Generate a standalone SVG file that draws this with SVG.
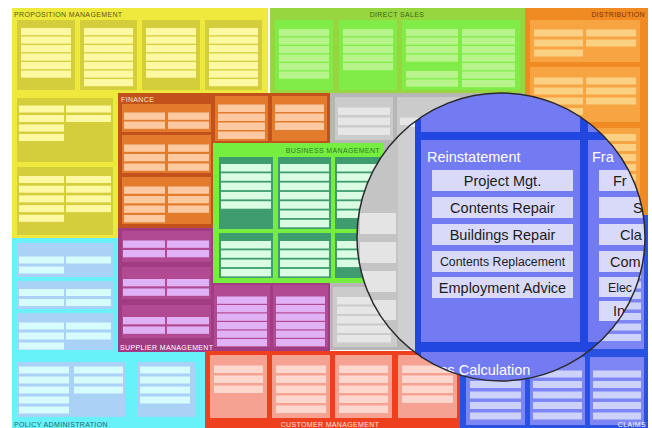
<svg xmlns="http://www.w3.org/2000/svg" width="652" height="428" viewBox="0 0 652 428">
<style>
text{font-family:"Liberation Sans",Arial,Helvetica,sans-serif}
.lbl{font-size:7px;letter-spacing:.35px}
.hd{font-size:14.5px;fill:#fff}
.it{font-size:14.5px;fill:#1c1c1c}
.its{font-size:12.3px;fill:#1c1c1c}
.mid{text-anchor:middle}
.end{text-anchor:end}
.yo{fill:#efe93e}.yg{fill:#d5ce3c}.yc{fill:#fdf8a2}
.dso{fill:#97d63f}.dsg{fill:#7fec48}.dsc{fill:#b7f58c}
.do{fill:#f08a22}.dg{fill:#f6a542}.dc{fill:#fcd083}
.fo{fill:#c2511b}.fg{fill:#e27b2c}.fc{fill:#fcc9a1}
.bo{fill:#76ee40}.bg{fill:#3e9c6e}.bc{fill:#d9fce2}
.go{fill:#b6b6b6}.gg{fill:#cbcbcb}.gc{fill:#e6e6e6}
.po{fill:#a23c82}.pg{fill:#b24a93}.pc{fill:#e0b1f5}
.co{fill:#66f2f8}.cg{fill:#a9d2f6}.cc{fill:#d6fcfc}
.ro{fill:#ee401e}.rg{fill:#f5a293}.rc{fill:#fdd6cd}
.lo{fill:#2a52e2}.lg{fill:#7d86f4}.lc{fill:#ccd2fa}
.zb{fill:#2247e0}.zp{fill:#737bf2}.zi{fill:#d9dafa}
</style>
<defs>
<clipPath id="lens"><circle cx="501" cy="237" r="144"/></clipPath>
</defs>
<rect width="652" height="428" fill="#fff"/>

<!-- Proposition management -->
<g id="proposition-management">
<rect class="yo" x="12" y="8" width="256" height="232"/>
<text class="lbl" x="14" y="16.8" fill="#5c5612">PROPOSITION MANAGEMENT</text>
<g class="yg">
<rect x="17" y="20" width="58" height="70"/><rect x="80" y="20" width="57" height="70"/>
<rect x="142" y="20" width="58" height="70"/><rect x="205" y="20" width="57" height="70"/>
<rect x="17" y="98" width="96" height="64"/><rect x="17" y="167" width="96" height="68"/>
</g>
<g class="yc">
<rect x="21" y="28" width="50" height="7.2"/><rect x="21" y="36.5" width="50" height="7.2"/><rect x="21" y="45" width="50" height="7.2"/><rect x="21" y="53.5" width="50" height="7.2"/><rect x="21" y="62" width="50" height="7.2"/><rect x="21" y="70.5" width="50" height="7.2"/>
<rect x="84" y="28" width="49" height="7.2"/><rect x="84" y="36.5" width="49" height="7.2"/><rect x="84" y="45" width="49" height="7.2"/><rect x="84" y="53.5" width="49" height="7.2"/><rect x="84" y="62" width="49" height="7.2"/><rect x="84" y="70.5" width="49" height="7.2"/><rect x="84" y="79" width="49" height="7.2"/>
<rect x="146" y="28" width="50" height="7.2"/><rect x="146" y="36.5" width="50" height="7.2"/><rect x="146" y="45" width="50" height="7.2"/><rect x="146" y="53.5" width="50" height="7.2"/><rect x="146" y="62" width="50" height="7.2"/><rect x="146" y="70.5" width="50" height="7.2"/>
<rect x="209" y="28" width="49" height="7.2"/><rect x="209" y="36.5" width="49" height="7.2"/><rect x="209" y="45" width="49" height="7.2"/><rect x="209" y="53.5" width="49" height="7.2"/><rect x="209" y="62" width="49" height="7.2"/><rect x="209" y="70.5" width="49" height="7.2"/><rect x="209" y="79" width="49" height="7.2"/>
<rect x="19" y="105.5" width="45" height="7"/><rect x="66" y="105.5" width="45" height="7"/><rect x="19" y="115" width="45" height="7"/><rect x="66" y="115" width="45" height="7"/><rect x="19" y="124.5" width="45" height="7"/><rect x="19" y="134" width="45" height="7"/>
<rect x="19" y="176" width="45" height="7"/><rect x="66" y="176" width="45" height="7"/><rect x="19" y="185.7" width="45" height="7"/><rect x="66" y="185.7" width="45" height="7"/><rect x="19" y="195.4" width="45" height="7"/><rect x="66" y="195.4" width="45" height="7"/><rect x="19" y="205.1" width="45" height="7"/><rect x="66" y="205.1" width="45" height="7"/><rect x="19" y="214.8" width="45" height="7"/>
</g>
</g>

<!-- Direct sales -->
<g id="direct-sales">
<rect class="dso" x="270" y="8" width="255" height="85"/>
<text class="lbl mid" x="397" y="16.8" fill="#3e6614">DIRECT SALES</text>
<g class="dsg">
<rect x="275" y="20" width="58" height="70"/><rect x="339" y="20" width="58" height="70"/><rect x="402" y="20" width="118" height="70"/>
</g>
<g class="dsc">
<rect x="279" y="29" width="50" height="7.2"/><rect x="279" y="37.5" width="50" height="7.2"/><rect x="279" y="46" width="50" height="7.2"/><rect x="279" y="54.5" width="50" height="7.2"/><rect x="279" y="63" width="50" height="7.2"/><rect x="279" y="71.5" width="50" height="7.2"/>
<rect x="343" y="29" width="50" height="7.2"/><rect x="343" y="37.5" width="50" height="7.2"/><rect x="343" y="46" width="50" height="7.2"/><rect x="343" y="54.5" width="50" height="7.2"/><rect x="343" y="63" width="50" height="7.2"/>
<rect x="406" y="29" width="52" height="7.2"/><rect x="406" y="37.5" width="52" height="7.2"/><rect x="406" y="46" width="52" height="7.2"/><rect x="406" y="54.5" width="52" height="7.2"/><rect x="406" y="71" width="52" height="7.2"/><rect x="406" y="79.5" width="52" height="7.2"/>
<rect x="462" y="29" width="53" height="7.2"/><rect x="462" y="37.5" width="53" height="7.2"/><rect x="462" y="46" width="53" height="7.2"/><rect x="462" y="54.5" width="53" height="7.2"/><rect x="462" y="63" width="53" height="7.2"/><rect x="462" y="71.5" width="53" height="7.2"/><rect x="462" y="80" width="53" height="7.2"/>
</g>
</g>

<!-- Distribution -->
<g id="distribution">
<rect class="do" x="525" y="8" width="123" height="207"/>
<text class="lbl end" x="645" y="17" fill="#7a3404">DISTRIBUTION</text>
<g class="dg">
<rect x="530" y="20" width="110" height="42"/><rect x="530" y="67" width="110" height="55"/><rect x="530" y="128" width="110" height="80"/>
</g>
<g class="dc">
<rect x="534" y="29.5" width="49" height="7"/><rect x="586" y="29.5" width="50" height="7"/><rect x="534" y="39.5" width="49" height="7"/><rect x="586" y="39.5" width="50" height="7"/><rect x="534" y="49.5" width="49" height="7"/>
<rect x="534" y="77.5" width="49" height="7"/><rect x="586" y="77.5" width="50" height="7"/><rect x="534" y="87.5" width="49" height="7"/><rect x="586" y="87.5" width="50" height="7"/><rect x="534" y="97.5" width="49" height="7"/><rect x="586" y="97.5" width="50" height="7"/><rect x="534" y="108" width="49" height="7"/>
<rect x="534" y="134" width="49" height="7"/><rect x="586" y="134" width="50" height="7"/><rect x="534" y="144" width="49" height="7"/><rect x="586" y="144" width="50" height="7"/><rect x="534" y="154" width="49" height="7"/><rect x="586" y="154" width="50" height="7"/><rect x="534" y="164" width="49" height="7"/><rect x="586" y="164" width="50" height="7"/><rect x="534" y="174" width="49" height="7"/><rect x="586" y="174" width="50" height="7"/>
</g>
</g>

<!-- Grey domain behind the lens -->
<g id="grey-domain">
<rect class="go" x="330" y="93" width="195" height="257"/>
<g class="gg">
<rect x="335" y="97" width="58" height="43"/><rect x="397" y="97" width="63" height="43"/><rect x="333" y="287" width="64" height="60"/>
</g>
<g class="gc">
<rect x="338" y="107.5" width="52" height="7.5"/><rect x="338" y="117.5" width="52" height="7.5"/><rect x="338" y="127.5" width="52" height="7.5"/>
<rect x="400" y="117.5" width="57" height="7.5"/>
<rect x="337" y="297" width="54" height="7.5"/><rect x="337" y="306.5" width="54" height="7.5"/><rect x="337" y="316" width="54" height="7.5"/><rect x="337" y="325.5" width="54" height="7.5"/><rect x="337" y="335" width="54" height="7.5"/>
</g>
</g>

<!-- Policy administration -->
<g id="policy-administration">
<rect class="co" x="12" y="238" width="193" height="190"/>
<g class="cg">
<rect x="17" y="243" width="96" height="34"/><rect x="17" y="281" width="96" height="28"/><rect x="17" y="313" width="96" height="37"/>
<rect x="17" y="362" width="108" height="55"/><rect x="137" y="362" width="58" height="55"/>
</g>
<g class="cc">
<rect x="19" y="256.5" width="45" height="7"/><rect x="66" y="256.5" width="45" height="7"/><rect x="19" y="266.5" width="45" height="7"/>
<rect x="19" y="289" width="45" height="7"/><rect x="66" y="289" width="45" height="7"/><rect x="19" y="299" width="45" height="7"/><rect x="66" y="299" width="45" height="7"/>
<rect x="19" y="322.5" width="45" height="7"/><rect x="66" y="322.5" width="45" height="7"/><rect x="19" y="332.5" width="45" height="7"/><rect x="66" y="332.5" width="45" height="7"/><rect x="19" y="342.5" width="45" height="7"/>
<rect x="19" y="366.5" width="50" height="7"/><rect x="19" y="376.5" width="50" height="7"/><rect x="19" y="386.5" width="50" height="7"/><rect x="19" y="396.5" width="50" height="7"/><rect x="19" y="406.5" width="50" height="7"/>
<rect x="74" y="366.5" width="49" height="7"/><rect x="74" y="376.5" width="49" height="7"/><rect x="74" y="386.5" width="49" height="7"/>
<rect x="140" y="366.5" width="50" height="7"/><rect x="140" y="376.5" width="50" height="7"/><rect x="140" y="386.5" width="50" height="7"/><rect x="140" y="396.5" width="50" height="7"/>
</g>
<text class="lbl" x="14" y="427" fill="#1d6b72">POLICY ADMINISTRATION</text>
</g>

<!-- Finance -->
<g id="finance">
<rect class="fo" x="118" y="93" width="212" height="135"/>
<text class="lbl" x="121" y="101.5" fill="#ffe8d8">FINANCE</text>
<g class="fg">
<rect x="122" y="104" width="89" height="28"/><rect x="122" y="135" width="89" height="38"/><rect x="122" y="177" width="89" height="47"/>
<rect x="215" y="96" width="53" height="45"/><rect x="272" y="96" width="55" height="45"/>
</g>
<g class="fc">
<rect x="124" y="112.5" width="41" height="7.3"/><rect x="168" y="112.5" width="41" height="7.3"/><rect x="124" y="121.5" width="41" height="7.3"/><rect x="168" y="121.5" width="41" height="7.3"/>
<rect x="124" y="144.5" width="41" height="7.3"/><rect x="168" y="144.5" width="41" height="7.3"/><rect x="124" y="154" width="41" height="7.3"/><rect x="168" y="154" width="41" height="7.3"/><rect x="124" y="163.5" width="41" height="7.3"/><rect x="168" y="163.5" width="41" height="7.3"/>
<rect x="124" y="186.5" width="41" height="7.3"/><rect x="168" y="186.5" width="41" height="7.3"/><rect x="124" y="196" width="41" height="7.3"/><rect x="168" y="196" width="41" height="7.3"/><rect x="124" y="205.5" width="41" height="7.3"/><rect x="168" y="205.5" width="41" height="7.3"/><rect x="124" y="215" width="41" height="7.3"/>
<rect x="218" y="104.5" width="47" height="7.5"/><rect x="218" y="113.5" width="47" height="7.5"/><rect x="218" y="122.5" width="47" height="7.5"/><rect x="218" y="131.5" width="47" height="7.5"/>
<rect x="275" y="104.5" width="49" height="7.5"/><rect x="275" y="113.5" width="49" height="7.5"/><rect x="275" y="122.5" width="49" height="7.5"/>
</g>
</g>

<!-- Supplier management -->
<g id="supplier-management">
<rect class="po" x="118" y="228" width="212" height="124"/>
<g class="pg">
<rect x="122" y="231" width="89" height="31"/><rect x="122" y="267" width="89" height="32"/><rect x="122" y="305" width="89" height="33"/>
<rect x="214" y="285" width="56" height="62"/><rect x="273" y="285" width="55" height="62"/>
</g>
<g class="pc">
<rect x="123" y="240.5" width="42" height="7.3"/><rect x="167" y="240.5" width="42" height="7.3"/><rect x="123" y="250" width="42" height="7.3"/><rect x="167" y="250" width="42" height="7.3"/>
<rect x="123" y="279" width="42" height="7.3"/><rect x="167" y="279" width="42" height="7.3"/><rect x="123" y="288.5" width="42" height="7.3"/><rect x="167" y="288.5" width="42" height="7.3"/>
<rect x="123" y="317" width="42" height="7.3"/><rect x="167" y="317" width="42" height="7.3"/><rect x="123" y="326.5" width="42" height="7.3"/><rect x="167" y="326.5" width="42" height="7.3"/>
<rect x="217" y="296.5" width="50" height="7.3"/><rect x="217" y="305" width="50" height="7.3"/><rect x="217" y="313.5" width="50" height="7.3"/><rect x="217" y="322" width="50" height="7.3"/><rect x="217" y="330.5" width="50" height="7.3"/><rect x="217" y="339" width="50" height="7.3"/>
<rect x="276" y="296.5" width="49" height="7.3"/><rect x="276" y="305" width="49" height="7.3"/><rect x="276" y="313.5" width="49" height="7.3"/><rect x="276" y="322" width="49" height="7.3"/><rect x="276" y="330.5" width="49" height="7.3"/><rect x="276" y="339" width="49" height="7.3"/>
</g>
<text class="lbl" x="120" y="350" fill="#fff">SUPPLIER MANAGEMENT</text>
</g>

<!-- Business management -->
<g id="business-management">
<rect class="bo" x="213" y="143" width="171" height="140"/>
<text class="lbl end" x="380" y="152.5" fill="#2c7a2c">BUSINESS MANAGEMENT</text>
<g class="bg">
<rect x="219" y="157" width="54" height="72"/><rect x="278" y="157" width="53" height="72"/><rect x="335" y="157" width="46" height="72"/>
<rect x="219" y="233" width="54" height="45"/><rect x="278" y="233" width="53" height="45"/><rect x="335" y="233" width="46" height="45"/>
</g>
<g class="bc">
<rect x="221" y="164" width="50" height="7.5"/><rect x="221" y="173.3" width="50" height="7.5"/><rect x="221" y="182.6" width="50" height="7.5"/><rect x="221" y="191.9" width="50" height="7.5"/><rect x="221" y="201.2" width="50" height="7.5"/>
<rect x="280" y="164" width="49" height="7.5"/><rect x="280" y="173.3" width="49" height="7.5"/><rect x="280" y="182.6" width="49" height="7.5"/><rect x="280" y="191.9" width="49" height="7.5"/><rect x="280" y="201.2" width="49" height="7.5"/><rect x="280" y="210.5" width="49" height="7.5"/><rect x="280" y="219.8" width="49" height="7.5"/>
<rect x="337" y="164" width="42" height="7.5"/><rect x="337" y="173.3" width="42" height="7.5"/><rect x="337" y="182.6" width="42" height="7.5"/><rect x="337" y="191.9" width="42" height="7.5"/><rect x="337" y="201.2" width="42" height="7.5"/><rect x="337" y="210.5" width="42" height="7.5"/>
<rect x="221" y="241" width="50" height="7.5"/><rect x="221" y="250.3" width="50" height="7.5"/><rect x="221" y="259.6" width="50" height="7.5"/><rect x="221" y="268.9" width="50" height="7.5"/>
<rect x="280" y="241" width="49" height="7.5"/><rect x="280" y="250.3" width="49" height="7.5"/><rect x="280" y="259.6" width="49" height="7.5"/><rect x="280" y="268.9" width="49" height="7.5"/>
<rect x="337" y="241" width="42" height="7.5"/><rect x="337" y="250.3" width="42" height="7.5"/><rect x="337" y="259.6" width="42" height="7.5"/>
</g>
</g>

<!-- Customer management -->
<g id="customer-management">
<rect class="ro" x="205" y="351" width="258" height="77"/>
<g class="rg">
<rect x="210" y="355" width="57" height="63"/><rect x="272" y="355" width="58" height="63"/><rect x="335" y="355" width="57" height="63"/><rect x="398" y="355" width="59" height="63"/>
</g>
<g class="rc">
<rect x="214" y="365.5" width="49" height="7.5"/><rect x="214" y="375.5" width="49" height="7.5"/><rect x="214" y="385.5" width="49" height="7.5"/>
<rect x="276" y="365.5" width="50" height="7.5"/><rect x="276" y="375.5" width="50" height="7.5"/><rect x="276" y="385.5" width="50" height="7.5"/><rect x="276" y="395.5" width="50" height="7.5"/><rect x="276" y="405.5" width="50" height="7.5"/>
<rect x="339" y="365.5" width="49" height="7.5"/><rect x="339" y="375.5" width="49" height="7.5"/><rect x="339" y="385.5" width="49" height="7.5"/><rect x="339" y="395.5" width="49" height="7.5"/><rect x="339" y="405.5" width="49" height="7.5"/>
<rect x="402" y="365.5" width="51" height="7.5"/><rect x="402" y="375.5" width="51" height="7.5"/><rect x="402" y="385.5" width="51" height="7.5"/><rect x="402" y="395.5" width="51" height="7.5"/>
</g>
<text class="lbl mid" x="330" y="427" fill="#ffe0d8">CUSTOMER MANAGEMENT</text>
</g>

<!-- Claims -->
<g id="claims">
<rect class="lo" x="460" y="215" width="188" height="213"/>
<g class="lg">
<rect x="590" y="219" width="54" height="130"/><rect x="466" y="357" width="59" height="68"/><rect x="530" y="357" width="55" height="68"/><rect x="590" y="357" width="54" height="68"/>
</g>
<g class="lc">
<rect x="593" y="229" width="48" height="7"/><rect x="593" y="239.5" width="48" height="7"/><rect x="593" y="250" width="48" height="7"/><rect x="593" y="260.5" width="48" height="7"/><rect x="593" y="271" width="48" height="7"/><rect x="593" y="281.5" width="48" height="7"/><rect x="593" y="292" width="48" height="7"/><rect x="593" y="302.5" width="48" height="7"/><rect x="593" y="313" width="48" height="7"/><rect x="593" y="323.5" width="48" height="7"/><rect x="593" y="334" width="48" height="7"/>
<rect x="470" y="370.5" width="51" height="7"/><rect x="470" y="381" width="51" height="7"/><rect x="470" y="391.5" width="51" height="7"/><rect x="470" y="402" width="51" height="7"/><rect x="470" y="412.5" width="51" height="7"/>
<rect x="533" y="370.5" width="49" height="7"/><rect x="533" y="381" width="49" height="7"/><rect x="533" y="391.5" width="49" height="7"/><rect x="533" y="402" width="49" height="7"/><rect x="533" y="412.5" width="49" height="7"/>
<rect x="593" y="370.5" width="48" height="7"/><rect x="593" y="381" width="48" height="7"/><rect x="593" y="391.5" width="48" height="7"/><rect x="593" y="402" width="48" height="7"/><rect x="593" y="412.5" width="48" height="7"/>
</g>
<text class="lbl end" x="646" y="427" fill="#fff">CLAIMS</text>
</g>

<g id="connectors"/>

<!-- Magnifying lens with an enlarged view of the claims capabilities -->
<g id="magnifier">
<g clip-path="url(#lens)">
<rect x="355" y="90" width="295" height="300" fill="#c4c4c4"/>
<g fill="#e4e4e4">
<rect x="360" y="213" width="36" height="21"/><rect x="360" y="242" width="36" height="21"/><rect x="360" y="271" width="36" height="21"/><rect x="360" y="300" width="36" height="20"/>
</g>
<rect x="398" y="90" width="17" height="300" fill="#cfcfcf"/>
<rect x="400" y="118" width="15" height="9" fill="#ececec"/>
<rect class="zb" x="415" y="90" width="235" height="300"/>
<g class="zp">
<rect x="421" y="90" width="159" height="42"/><rect x="588" y="90" width="62" height="42"/>
<rect x="421" y="140" width="159" height="202"/><rect x="588" y="140" width="62" height="202"/>
<rect x="421" y="352" width="229" height="40"/>
</g>
<g class="zi">
<rect x="432" y="170" width="141" height="21"/><rect x="432" y="197" width="141" height="21"/><rect x="432" y="224" width="141" height="21"/><rect x="432" y="251" width="141" height="21"/><rect x="432" y="277" width="141" height="21"/>
<rect x="599" y="170" width="60" height="21"/><rect x="599" y="197" width="60" height="21"/><rect x="599" y="224" width="60" height="21"/><rect x="599" y="251" width="60" height="21"/><rect x="599" y="277" width="60" height="20"/><rect x="599" y="301" width="60" height="20"/>
</g>
<text class="hd" x="427" y="162">Reinstatement</text>
<text class="it mid" x="502.5" y="185.8">Project Mgt.</text>
<text class="it mid" x="502.5" y="212.8">Contents Repair</text>
<text class="it mid" x="502.5" y="239.8">Buildings Repair</text>
<text class="its mid" x="502.5" y="266">Contents Replacement</text>
<text class="it mid" x="502.5" y="292.8">Employment Advice</text>
<text class="hd" x="592" y="162">Fra</text>
<text class="it" x="613" y="185.8">Fr</text>
<text class="it" x="633" y="212.8">S</text>
<text class="it" x="620" y="239.8">Cla</text>
<text class="it" x="610" y="266.8">Com</text>
<text class="its" x="608" y="292">Elec</text>
<text class="it" x="613" y="316">In</text>
<text class="hd" x="424" y="375">Loss Calculation</text>
</g>
<circle cx="501" cy="237" r="144" fill="none" stroke="#2b2b2b" stroke-width="1.5"/>
</g>
</svg>
